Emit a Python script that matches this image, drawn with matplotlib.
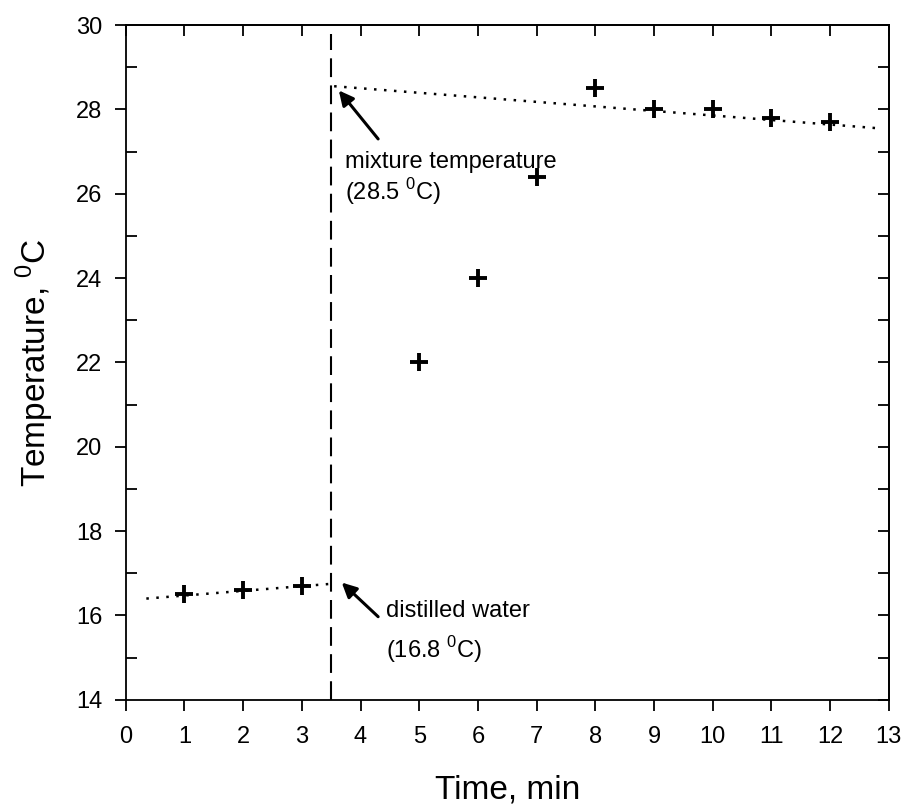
import matplotlib.pyplot as plt
import numpy as np
from matplotlib.ticker import MultipleLocator, NullFormatter

plt.rcParams['font.family'] = ['Liberation Sans', 'DejaVu Sans']
plt.rcParams['mathtext.fontset'] = 'custom'
plt.rcParams['mathtext.rm'] = 'Liberation Sans'

# measured points
time_min = [1, 2, 3, 5, 6, 7, 8, 9, 10, 11, 12]
temp_c = [16.5, 16.6, 16.7, 22.0, 24.0, 26.4, 28.5, 28.0, 28.0, 27.8, 27.7]

# extrapolation lines (end points)
water_fit_x = [0.35, 3.5]
water_fit_y = [16.4, 16.75]
mix_fit_x = [3.55, 12.85]
mix_fit_y = [28.55, 27.55]

mixing_time = 3.5

fig = plt.figure(figsize=(9.05, 8.09), dpi=100)
ax = fig.add_axes([0.139, 0.135, 0.843, 0.834])

ax.plot(time_min, temp_c, linestyle='none', marker='+', color='black',
        markersize=13, markeredgewidth=2.8)
ax.plot(water_fit_x, water_fit_y, color='black', linestyle=(0, (1, 3)), linewidth=1.8)
ax.plot(mix_fit_x, mix_fit_y, color='black', linestyle=(0, (1, 3)), linewidth=1.8)
ax.plot([mixing_time, mixing_time], [14, 29.8], color='black',
        linestyle=(0, (9, 4)), linewidth=1.5)

ax.annotate('', xy=(3.63, 28.45), xytext=(4.3, 27.3),
            arrowprops=dict(arrowstyle='-|>', color='black', lw=2.2,
                            mutation_scale=22, shrinkA=0, shrinkB=0))
ax.text(3.74, 26.75, 'mixture temperature', fontsize=17, va='center', ha='left')
ax.text(3.74, 26.05, '(28.5 $^{0}$C)', fontsize=17, va='center', ha='left')

ax.annotate('', xy=(3.68, 16.78), xytext=(4.3, 15.97),
            arrowprops=dict(arrowstyle='-|>', color='black', lw=2.2,
                            mutation_scale=22, shrinkA=0, shrinkB=0))
ax.text(4.43, 16.1, 'distilled water', fontsize=17, va='center', ha='left')
ax.text(4.43, 15.2, '(16.8 $^{0}$C)', fontsize=17, va='center', ha='left')

ax.set_xlim(0, 13)
ax.set_ylim(14, 30)
ax.xaxis.set_major_locator(MultipleLocator(1))
ax.yaxis.set_major_locator(MultipleLocator(2))
ax.yaxis.set_minor_locator(MultipleLocator(1))
ax.tick_params(which='major', direction='out', length=8, width=1.3, labelsize=17)
ax.tick_params(which='minor', direction='in', length=8, width=1.3)
ax.tick_params(axis='x', pad=11)
ax.tick_params(axis='y', pad=9)

top = ax.secondary_xaxis('top')
top.xaxis.set_major_locator(MultipleLocator(1))
top.xaxis.set_major_formatter(NullFormatter())
top.tick_params(direction='in', length=8, width=1.3)
right = ax.secondary_yaxis('right')
right.yaxis.set_major_locator(MultipleLocator(2))
right.yaxis.set_minor_locator(MultipleLocator(1))
right.yaxis.set_major_formatter(NullFormatter())
right.tick_params(which='both', direction='in', length=8, width=1.3)

for sp in list(ax.spines.values()) + [top.spines['top'], right.spines['right']]:
    sp.set_linewidth(1.3)

ax.set_xlabel('Time, min', fontsize=24, labelpad=19)
ax.set_ylabel('Temperature, $^{0}$C', fontsize=24, labelpad=14)

fig.savefig('out.png', dpi=100)
